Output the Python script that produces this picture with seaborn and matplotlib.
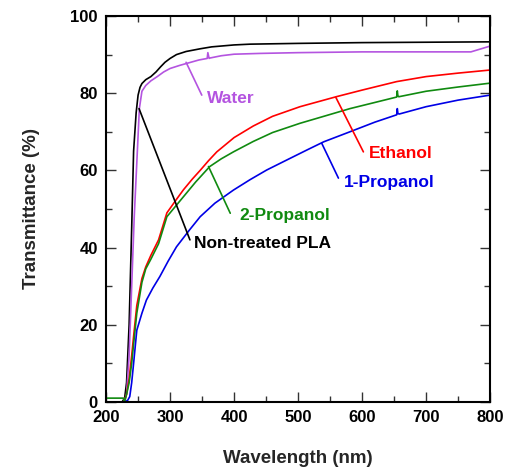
import matplotlib
matplotlib.use("Agg")
import matplotlib.pyplot as plt
from matplotlib.ticker import MultipleLocator
import seaborn as sns
import pandas as pd

# ---- data ----
pla_wl = [200, 225, 229, 232, 236, 240, 243, 247, 250, 253, 256, 262, 270, 278, 285, 292, 300, 310, 325, 347, 365, 400, 425, 500, 600, 700, 800]
pla_t = [0, 0, 1, 5, 20, 45, 65, 75, 79.5, 81.5, 82.5, 83.5, 84.3, 85.5, 86.8, 88, 89, 90, 90.8, 91.5, 92, 92.5, 92.7, 92.9, 93.1, 93.2, 93.3]

water_wl = [200, 228, 232, 236, 240, 244, 248, 252, 256, 262, 270, 280, 290, 300, 315, 330, 345, 358, 359, 361, 362, 380, 400, 440, 500, 600, 700, 770, 790, 800]
water_t = [0, 0, 2, 12, 30, 48, 62, 76, 80.5, 82, 83.2, 84.3, 85.5, 86.4, 87.2, 87.9, 88.6, 89, 90.5, 89, 89.1, 89.7, 90.1, 90.3, 90.5, 90.7, 90.7, 90.7, 91.7, 92.2]

eth_wl = [200, 228, 232, 236, 240, 243, 248, 256, 262, 270, 282, 295, 310, 321, 335, 347, 360, 373, 400, 430, 460, 503, 560, 600, 654, 700, 750, 800]
eth_t = [0, 0, 2, 6, 12, 17, 25, 32, 35, 38, 42, 49, 52.5, 55, 57.8, 60, 62.5, 64.8, 68.5, 71.5, 74, 76.5, 79.1, 80.8, 83, 84.3, 85.2, 86]

iso_wl = [200, 227, 229, 232, 236, 240, 243, 248, 256, 262, 270, 282, 295, 310, 321, 340, 362, 380, 399, 430, 460, 503, 540, 581, 620, 654, 655, 656, 657, 658, 700, 750, 800]
iso_t = [1, 1, 0, 2, 5, 10, 15, 23, 31, 34.5, 37, 41, 48, 51, 53.2, 57, 61, 63, 64.8, 67.5, 69.8, 72.2, 74, 76, 77.6, 79, 80.6, 79.2, 79.1, 79.1, 80.5, 81.6, 82.6]

prop_wl = [200, 230, 234, 237, 240, 243, 248, 256, 263, 273, 284, 297, 310, 330, 347, 370, 399, 425, 451, 480, 514, 540, 581, 620, 654, 655, 656, 658, 700, 750, 800]
prop_t = [0, 0, 0.5, 1.4, 5, 10, 18.6, 23, 26.4, 29.5, 32.5, 36.5, 40.2, 44.5, 48, 51.5, 54.9, 57.6, 60.1, 62.5, 65.3, 67.4, 70, 72.5, 74.4, 76, 74.7, 74.6, 76.5, 78.2, 79.5]

series = [
    ("Non-treated PLA", pla_wl, pla_t, "#000000"),
    ("Water", water_wl, water_t, "#b454e0"),
    ("Ethanol", eth_wl, eth_t, "#ff0000"),
    ("2-Propanol", iso_wl, iso_t, "#108a10"),
    ("1-Propanol", prop_wl, prop_t, "#0000e6"),
]

# label text positions and leader line endpoints (data coords)
labels = {
    "Water": ((325, 88), (349.5, 79.5), (357, 78.5)),
    "Ethanol": ((559, 78.9), (602, 64.8), (610, 64.3)),
    "1-Propanol": ((537, 67), (563, 58), (572, 56.8)),
    "2-Propanol": ((360, 61), (394, 48.9), (408, 48.4)),
    "Non-treated PLA": ((251.5, 76), (331, 42), (337, 41)),
}

sns.set_style("ticks")
plt.rcParams['font.family'] = ['Liberation Sans', 'DejaVu Sans']
plt.rcParams['font.weight'] = 'bold'

fig = plt.figure(figsize=(5.1, 4.7), dpi=100)
ax = fig.add_axes([0.208, 0.1447, 0.753, 0.8213])

frames = []
for name, wl, t, c in series:
    frames.append(pd.DataFrame({"Wavelength": wl, "T": t, "Sample": name}))
df = pd.concat(frames, ignore_index=True)
palette = {name: c for name, _, _, c in series}
draw_order = ["Non-treated PLA", "Water", "Ethanol", "2-Propanol", "1-Propanol"]
sns.lineplot(data=df, x="Wavelength", y="T", hue="Sample", hue_order=draw_order,
             palette=palette, linewidth=1.2, legend=False, ax=ax, estimator=None, sort=False)

for name, wl, t, c in series:
    start, end, tpos = labels[name]
    ax.annotate("", xy=start, xytext=end,
                arrowprops=dict(arrowstyle="-", color=c, lw=1.2, shrinkA=0, shrinkB=0))
    ax.text(tpos[0], tpos[1], name, color=c, fontsize=12.5, fontweight='bold',
            ha='left', va='center')

ax.set_xlim(200, 800)
ax.set_ylim(0, 100)
ax.xaxis.set_major_locator(MultipleLocator(100))
ax.xaxis.set_minor_locator(MultipleLocator(50))
ax.yaxis.set_major_locator(MultipleLocator(20))
ax.yaxis.set_minor_locator(MultipleLocator(10))
ax.tick_params(which='both', direction='in', top=True, right=True, width=1.0, colors='#333333',
               labelcolor='black')
ax.tick_params(which='major', length=7, labelsize=12, pad=6)
ax.tick_params(which='minor', length=4)
for lab in ax.get_xticklabels() + ax.get_yticklabels():
    lab.set_fontweight('bold')
for s in ax.spines.values():
    s.set_linewidth(1.5)
    s.set_color('black')

ax.set_xlabel("Wavelength (nm)", fontsize=13.5, fontweight='bold', labelpad=18)
ax.set_ylabel("Transmittance (%)", fontsize=13.5, fontweight='bold', labelpad=22)

fig.savefig("out.png", dpi=100)
